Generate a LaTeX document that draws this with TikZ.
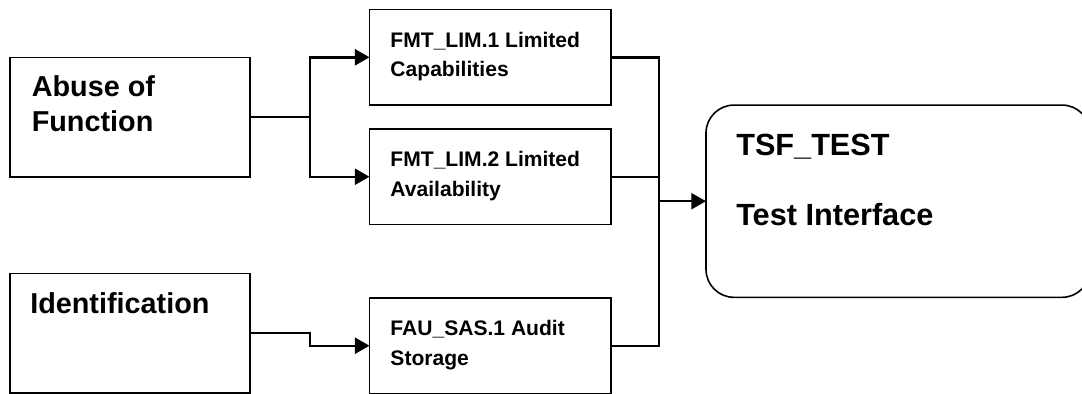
\documentclass[tikz,border=0pt]{standalone}
\usepackage{fontspec}
\setmainfont{Liberation Sans}
\usetikzlibrary{arrows.meta}
\begin{document}
\begin{tikzpicture}[x=0.75pt,y=-0.75pt,
  box/.style={draw=black,line width=1.2pt,rectangle,inner sep=0pt,outer sep=0pt},
  roundbox/.style={box,rounded corners=21pt},
  wire/.style={line width=1.8pt,black},
  arrow/.style={wire,-{Triangle[length=11pt,width=12pt]}},
  bigtxt/.style={anchor=base west,inner sep=0pt,align=left,font=\fontsize{21.6pt}{26.25pt}\selectfont\bfseries},
  smalltxt/.style={anchor=base west,inner sep=0pt,align=left,font=\fontsize{15.8pt}{22pt}\selectfont\bfseries},
  tsftxt/.style={anchor=base west,inner sep=0pt,align=left,font=\fontsize{23pt}{52.5pt}\selectfont\bfseries}]
\useasboundingbox (0,0) rectangle (1082,393);
\fill[white] (0,0) rectangle (1082,393);
% boxes
\node[box,minimum width=180pt,minimum height=89.55pt] (abuse) at (130,117) {};
\node[box,minimum width=180pt,minimum height=89.55pt] (ident) at (130,333) {};
\node[box,minimum width=180.9pt,minimum height=71.6pt] (fmt1) at (490.1,57.3) {};
\node[box,minimum width=180.9pt,minimum height=71.6pt] (fmt2) at (490.1,176.7) {};
\node[box,minimum width=180.9pt,minimum height=71.6pt] (fau) at (490.1,345.7) {};
\node[roundbox,minimum width=288pt,minimum height=144.2pt] (tsf) at (898,201.2) {};
% texts (anchor = baseline of the last line)
\node[bigtxt] (abuseT) at (31.5,131.7) {Abuse of\\Function};
\node[bigtxt] (identT) at (30,313.3) {Identification};
\node[smalltxt] (fmt1T) at (390.2,76.7) {FMT\_LIM.1 Limited\\Capabilities};
\node[smalltxt] (fmt2T) at (390.2,196.1) {FMT\_LIM.2 Limited\\Availability};
\node[smalltxt] (fauT) at (390.2,365.1) {FAU\_SAS.1 Audit\\Storage};
\node[tsftxt] (tsfT) at (736,225) {TSF\_TEST\\Test Interface};
% connectors
\coordinate (jl) at (310,0);
\coordinate (jr) at (659,0);
\draw[arrow] (abuse.east) -- (abuse.east -| jl) |- (fmt1.west);
\draw[arrow] (abuse.east -| jl) |- (fmt2.west);
\draw[arrow] (ident.east) -- (ident.east -| jl) |- (fau.west);
\draw[wire] (fmt1.east) -- (fmt1.east -| jr) -- (fau.east -| jr) -- (fau.east);
\draw[wire] (fmt2.east) -- (fmt2.east -| jr);
\draw[arrow] (tsf.west -| jr) -- (tsf.west);
\end{tikzpicture}
\end{document}
